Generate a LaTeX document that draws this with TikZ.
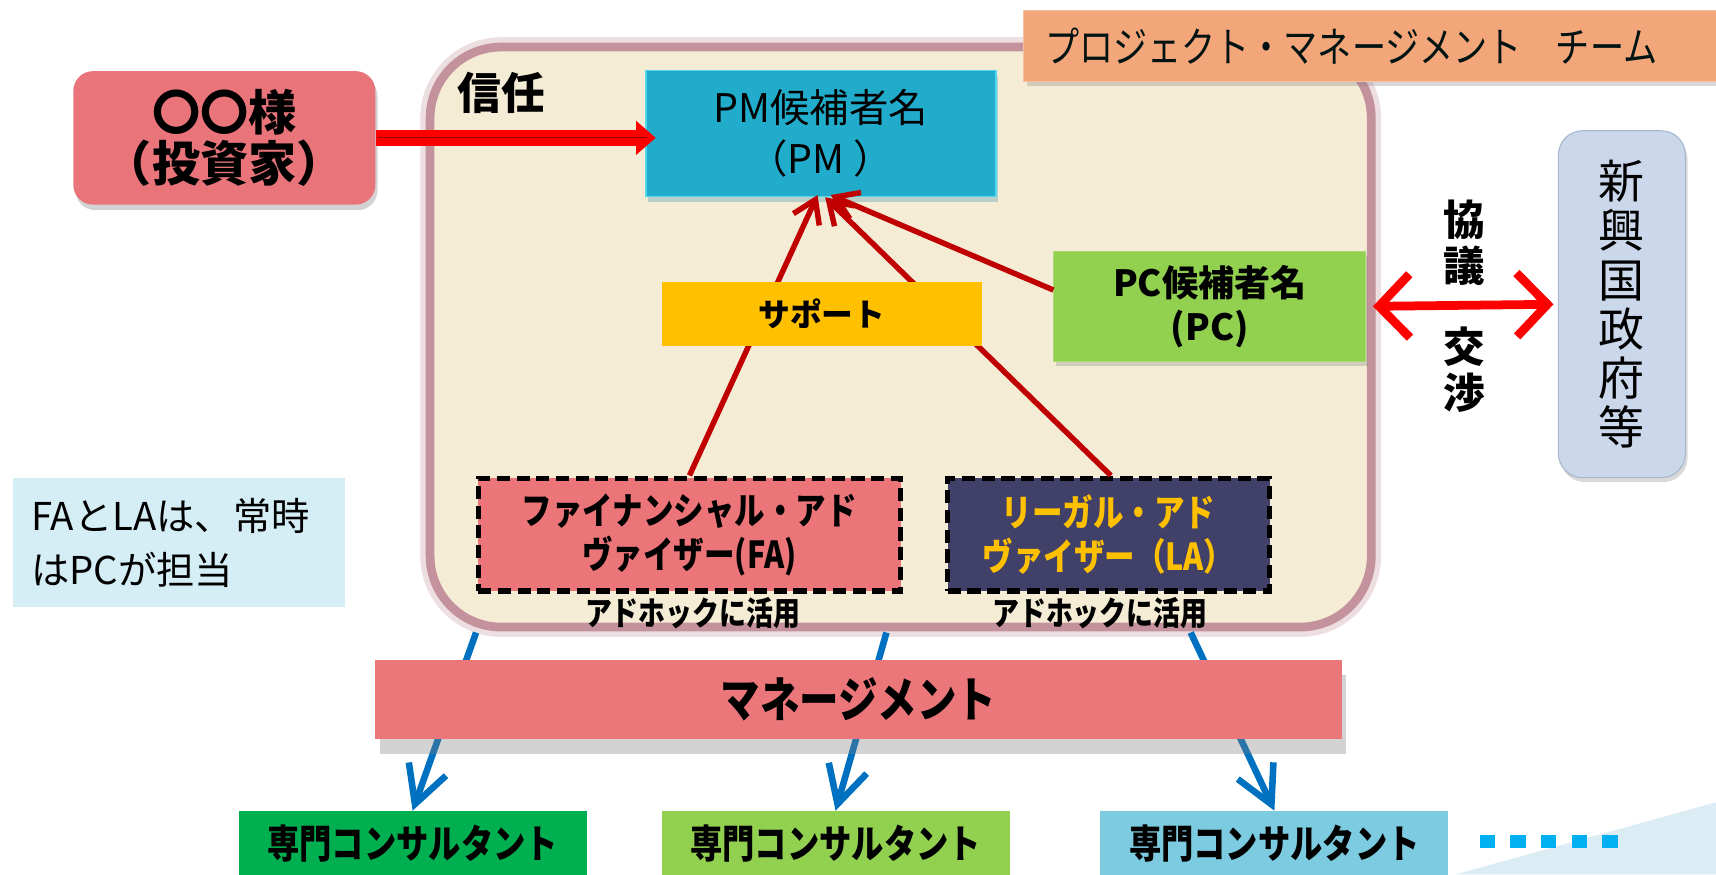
\documentclass[tikz,border=0pt]{standalone}
\usepackage{fontspec}
\setmainfont{Noto Sans CJK JP}
\newfontfamily\jn{Noto Sans CJK JP}
\newfontfamily\jc{Noto Sans CJK JP}[FakeStretch=0.82]
\usetikzlibrary{arrows.meta,shadows}
\definecolor{beige}{HTML}{F5ECD6}
\definecolor{mauve}{HTML}{C4929C}
\definecolor{invred}{HTML}{E9757B}
\definecolor{pmblue}{HTML}{21ACCB}
\definecolor{pmedge}{HTML}{52D8EE}
\definecolor{teamor}{HTML}{F2A679}
\definecolor{govblue}{HTML}{CBD7EA}
\definecolor{goved}{HTML}{A9B6CC}
\definecolor{pcgreen}{HTML}{92D050}
\definecolor{gold}{HTML}{FFC000}
\definecolor{fared}{HTML}{EC7579}
\definecolor{lanavy}{HTML}{404069}
\definecolor{notebl}{HTML}{D5EDF4}
\definecolor{mgmt}{HTML}{EC777B}
\definecolor{cgreen}{HTML}{00B050}
\definecolor{cblue}{HTML}{7CCBE0}
\definecolor{dotbl}{HTML}{00B0F0}
\definecolor{darkred}{HTML}{C00000}
\definecolor{arrblue}{HTML}{0070C0}
\definecolor{wedge}{HTML}{DCECF4}
\tikzset{
  box/.style={inner sep=0pt, align=center},
  dashbox/.style={box, draw=black, line width=5pt, dash pattern=on 12pt off 6pt},
  label/.style={inner sep=0pt, align=center},
  supline/.style={draw=darkred, line width=5pt, -{Straight Barb[length=20pt,width=26pt]}},
  bluearr/.style={draw=arrblue, line width=6pt, -{Straight Barb[length=34pt,width=36pt]}},
  consult/.style={box, minimum width=318pt, minimum height=60pt, font=\jc\bfseries\fontsize{36}{40}\selectfont}
}
\begin{document}
\begin{tikzpicture}[x=1pt,y=-1pt]
\useasboundingbox (0,0) rectangle (1568,799);
% bottom-right wedge
\fill[wedge] (1330,799) -- (1568,733) -- (1568,799) -- cycle;
% container with soft border
\node[box, draw=mauve!60, line width=18pt, rounded corners=65pt, opacity=0.5,
      minimum width=860pt, minimum height=530pt] (contglow) at (823,308) {};
\node[box, fill=beige, draw=mauve, line width=8pt, rounded corners=65pt,
      minimum width=860pt, minimum height=530pt] (cont) at (823,308) {};
\coordinate (b1) at (435,578);
\coordinate (b2) at (810,578);
\coordinate (b3) at (1088,578);
% team label
\node[box, fill=teamor, draw=teamor!70!white, line width=1pt, text width=610pt, inner xsep=20pt,
      minimum height=65pt, align=left, font=\jc\fontsize{38}{40}\selectfont, text=black!85!teal,
      drop shadow={shadow xshift=3pt, shadow yshift=-4pt, fill=gray, opacity=0.3}] (team) at (1260,42)
      {プロジェクト・マネージメント　チーム};
% investor
\node[box, fill=invred, rounded corners=18pt, minimum width=276pt, minimum height=122pt,
      font=\jn\bfseries\fontsize{44}{46}\selectfont,
      drop shadow={shadow xshift=2pt, shadow yshift=-5pt, fill=gray, opacity=0.35}] (inv) at (205,126)
      {〇〇様\\（投資家）};
\node[label, font=\jn\bfseries\fontsize{40}{44}\selectfont] (trust) at (458,85) {信任};
% PM
\node[box, fill=pmblue, draw=pmedge, line width=1.5pt, minimum width=320pt, minimum height=115pt,
      font=\jn\fontsize{36}{47}\selectfont,
      drop shadow={shadow xshift=2pt, shadow yshift=-5pt, fill=pmblue!60!gray, opacity=0.35}] (PM) at (750,122)
      {PM候補者名\\（PM ）};
% government
\node[box, fill=govblue, draw=goved, line width=1pt, rounded corners=22pt, minimum width=116pt, minimum height=317pt,
      font=\jn\fontsize{42}{45}\selectfont,
      drop shadow={shadow xshift=2pt, shadow yshift=-4pt, fill=gray, opacity=0.3}] (gov) at (1482,278)
      {新\\興\\国\\政\\府\\等};
\node[label, font=\jn\bfseries\fontsize{38}{42}\selectfont] (kyogi) at (1338,222) {協\\議};
\node[label, font=\jn\bfseries\fontsize{38}{42}\selectfont] (kosho) at (1338,338) {交\\渉};
% PC
\node[box, fill=pcgreen, draw=pcgreen!80!white, line width=1pt, minimum width=285pt, minimum height=100pt,
      font=\jn\bfseries\fontsize{33}{40}\selectfont,
      drop shadow={shadow xshift=2pt, shadow yshift=-4pt, fill=gray, opacity=0.3}] (PC) at (1105.5,280)
      {PC候補者名\\(PC)};
% FA / LA
\node[dashbox, fill=fared, minimum width=386pt, minimum height=103pt,
      font=\jc\bfseries\fontsize{34}{40}\selectfont] (FA) at (630,488.5)
      {ファイナンシャル・アド\\ヴァイザー(FA)};
\node[dashbox, fill=lanavy, text=gold, minimum width=294pt, minimum height=103pt,
      font=\jc\bfseries\fontsize{34}{40}\selectfont] (LA) at (1013,488.5)
      {リーガル・アド\\ヴァイザー（LA）};
% support lines (behind support box)
\draw[supline] (FA.north) -- ([xshift=-3pt,yshift=2pt]PM.south);
\draw[supline] ([xshift=2pt]LA.north) -- ([xshift=4pt]PM.south);
\draw[supline] ([yshift=15pt]PC.west) -- ([xshift=9pt,yshift=2pt]PM.south);
\node[box, fill=gold, minimum width=292pt, minimum height=58pt,
      font=\jn\bfseries\fontsize{29}{32}\selectfont] (sup) at (751,287) {サポート};
\node[label, font=\jc\bfseries\fontsize{30}{32}\selectfont] (ah1) at (633,560) {アドホックに活用};
\node[label, font=\jc\bfseries\fontsize{30}{32}\selectfont] (ah2) at (1005,560) {アドホックに活用};
% note
\node[box, fill=notebl, minimum width=303pt, minimum height=118pt, text width=270pt, align=left,
      font=\jn\fontsize{35}{50}\selectfont] (note) at (163.5,496)
      {FAとLAは、常時\\はPCが担当};
% arrows investor -> PM
\draw[draw=red, line width=14pt, -{Triangle[length=18pt,width=30pt]}, shorten >=-10pt]
     (inv.east) -- (inv.east -| PM.west);
\draw[draw=red!60!black, line width=1pt, shorten >=-2pt, shorten <=2pt] (inv.east) -- (inv.east -| PM.west);
% negotiation arrow
\draw[draw=red, line width=8pt, {Straight Barb[length=28pt,width=58pt]}-{Straight Barb[length=28pt,width=58pt]},
      shorten <=6pt, shorten >=4pt] (PC.east) -- (gov.west);
% consultants
\node[consult, fill=cgreen] (c1) at (377,771) {専門コンサルタント};
\node[consult, fill=pcgreen] (c2) at (763.5,771) {専門コンサルタント};
\node[consult, fill=cblue] (c3) at (1164.5,771) {専門コンサルタント};
% blue arrows (behind management box)
\draw[bluearr] (b1) -- (c1.north);
\draw[bluearr] (b2) -- (c2.north);
\draw[bluearr] (b3) -- (c3.north);
\node[box, fill=mgmt, minimum width=883pt, minimum height=72pt,
      font=\jc\bfseries\fontsize{44}{48}\selectfont,
      drop shadow={shadow xshift=4pt, shadow yshift=-14pt, fill=gray, opacity=0.35}] (mg) at (784.5,639) {マネージメント};
% dots
\foreach \i in {0,...,4} {
  \fill[dotbl] (1352+\i*28,763) rectangle ++(14,12);
}
\end{tikzpicture}
\end{document}
